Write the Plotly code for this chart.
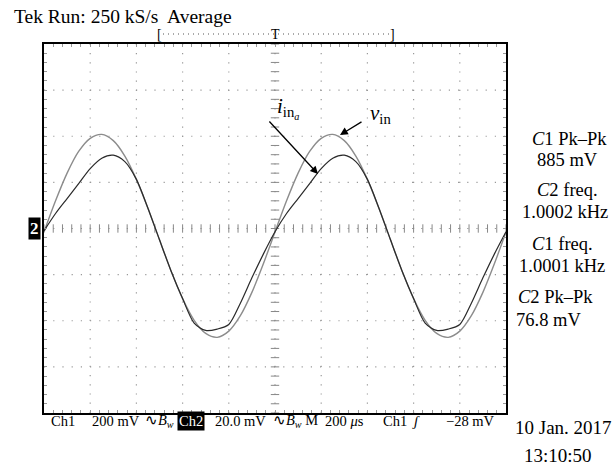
import plotly.graph_objects as go

# ---------------- data (read from the screen) ----------------
# time base 200 us/div, 10 divisions
time_us = [0, 50, 100, 150, 200, 250, 300, 350, 400, 450, 500, 550, 600, 650, 700, 750, 800, 850, 900, 950,
           1000, 1050, 1100, 1150, 1200, 1250, 1300, 1350, 1400, 1450, 1500, 1550, 1600, 1650, 1700, 1750,
           1800, 1850, 1900, 1950, 2000]
# Ch1: v_in, 200 mV/div
vin_mV = [-15, 120, 240, 334, 391, 408, 381, 314, 213, 88, -49, -184, -304, -398, -455, -472, -445, -378, -277, -152,
          -15, 120, 240, 334, 391, 408, 381, 314, 213, 88, -49, -184, -304, -398, -455, -472, -445, -378, -277, -152,
          -15]
# Ch2: i_in_a, 20 mV/div
iina_mV = [-1, 6.5, 13, 19.5, 26, 30.5, 31.8, 29, 21.3, 8.8, -4.9, -18.4, -30.4, -41, -44.2, -43.6, -41.6, -32.4, -21.4, -11,
           -1.4, 6.5, 13, 19.5, 26, 30.5, 31.8, 29, 21.3, 8.8, -4.9, -18.4, -30.4, -41, -44.2, -43.6, -41.6, -32.4, -21.4, -11,
           -1.4]
CH1_SCALE = 200.0   # mV/div
CH2_SCALE = 20.0    # mV/div

header_text = "Tek Run: 250 kS/s  Average"
meas_labels = ["<i>C</i>1 Pk–Pk", "885 mV", "<i>C</i>2 freq.", "1.0002 kHz",
               "<i>C</i>1 freq.", "1.0001 kHz", "<i>C</i>2 Pk–Pk", "76.8 mV"]

# ---------------- layout geometry ----------------
W, H = 615, 466
L, R, T, B = 44, 506, 44, 413
FONT = "Liberation Serif"


def px(x):
    return (x - L) / (R - L)


def py(y):
    return (B - y) / (B - T)


fig = go.Figure()

# centre cross tick marks
cx = [i * 40 for i in range(51)]
fig.add_trace(go.Scatter(x=cx, y=[0] * len(cx), mode="markers", hoverinfo="skip",
                         marker=dict(symbol="line-ns", size=6, line=dict(width=1, color="#888")),
                         showlegend=False))
cy = [-4 + i * 0.2 for i in range(41)]
fig.add_trace(go.Scatter(x=[1000] * len(cy), y=cy, mode="markers", hoverinfo="skip",
                         marker=dict(symbol="line-ew", size=6, line=dict(width=1, color="#888")),
                         showlegend=False))

# waveforms
fig.add_trace(go.Scatter(x=time_us, y=[v / CH1_SCALE for v in vin_mV], mode="lines",
                         line=dict(color="#8c8c8c", width=1.4, shape="spline", smoothing=0.8),
                         showlegend=False))
fig.add_trace(go.Scatter(x=time_us, y=[v / CH2_SCALE for v in iina_mV], mode="lines",
                         line=dict(color="#2a2a2a", width=1.2, shape="spline", smoothing=0.8),
                         showlegend=False))

# dotted graticule
shapes = []
for i in range(1, 10):
    shapes.append(dict(type="line", xref="x", yref="y", x0=i * 200, x1=i * 200, y0=-4, y1=4,
                       line=dict(color="#999", width=1.2, dash="1.2px,8px"), layer="below"))
for j in range(-3, 4):
    shapes.append(dict(type="line", xref="x", yref="y", x0=0, x1=2000, y0=j, y1=j,
                       line=dict(color="#999", width=1.2, dash="1.2px,8px"), layer="below"))
# trigger bracket dotted line at top
shapes.append(dict(type="line", xref="paper", yref="paper", x0=px(163), x1=px(389), y0=py(34), y1=py(34),
                   line=dict(color="#555", width=1, dash="1px,4px")))
fig.update_layout(shapes=shapes)

ann = []


def text(x, y, s, size=17, color="black", xanchor="center", yanchor="middle", **kw):
    ann.append(dict(x=px(x), y=py(y), xref="paper", yref="paper", text=s, showarrow=False,
                    xanchor=xanchor, yanchor=yanchor,
                    font=dict(family=FONT, size=size, color=color), **kw))


text(12, 17, header_text, size=19.5, xanchor="left")
text(159, 34, "[", size=14)
text(392, 34, "]", size=14)
text(275, 34, "T", size=14)

meas_x = [569, 567, 567, 565, 562, 562, 555, 548]
meas_y = [139, 160, 190, 212, 244, 266, 297, 320]
for s, x, y in zip(meas_labels, meas_x, meas_y):
    text(x, y, s, size=18.5)

# channel 2 ground marker
text(34, 229, "<b>2</b>", size=17, color="white", bgcolor="black", borderpad=1)

# bottom status line
text(49, 421, "Ch1", size=14.5, xanchor="left")
text(90, 421, "200 mV", size=14.5, xanchor="left")
text(143, 421, "∿<i>B</i><sub><i>w</i></sub>", size=14.5, xanchor="left")
text(191, 421, "Ch2", size=14.5, color="white", bgcolor="black", borderpad=1)
text(213, 421, "20.0 mV", size=14.5, xanchor="left")
text(271, 421, "∿<i>B</i><sub><i>w</i></sub> M", size=14.5, xanchor="left")
text(323, 421, "200 <i>μ</i>s", size=14.5, xanchor="left")
text(381, 421, "Ch1", size=14.5, xanchor="left")
text(416, 421, "<i>ʃ</i>", size=14.5)
text(497, 421, "−28 mV", size=14.5, xanchor="right")
text(563, 428, "10 Jan. 2017", size=19)
text(558, 455, "13:10:50", size=19)

# signal labels with arrows
ann.append(dict(x=px(318), y=py(174), ax=px(268), ay=py(120), xref="x domain", yref="y domain",
                axref="x domain", ayref="y domain", showarrow=True, arrowhead=2, arrowsize=1.2,
                arrowwidth=1.3, arrowcolor="black", text=""))
ann.append(dict(x=px(340), y=py(135), ax=px(363), ay=py(121), xref="x domain", yref="y domain",
                axref="x domain", ayref="y domain", showarrow=True, arrowhead=2, arrowsize=1.2,
                arrowwidth=1.3, arrowcolor="black", text=""))
text(288, 108, "<i>i</i><sub>in<sub><i>a</i></sub></sub>", size=21)
text(380, 114, "<i>v</i><sub>in</sub>", size=21)

fig.update_layout(annotations=ann)

fig.update_xaxes(range=[0, 2000], showgrid=False, zeroline=False, showticklabels=False,
                 ticks="inside", tick0=0, dtick=40, ticklen=3, tickcolor="#999", tickwidth=1,
                 showline=True, linecolor="black", linewidth=1.5, mirror="ticks")
fig.update_yaxes(range=[-4, 4], showgrid=False, zeroline=False, showticklabels=False,
                 ticks="inside", tick0=0, dtick=0.2, ticklen=3, tickcolor="#999", tickwidth=1,
                 showline=True, linecolor="black", linewidth=1.5, mirror="ticks")

fig.update_layout(width=W, height=H, margin=dict(l=L, r=W - R, t=T, b=H - B),
                  paper_bgcolor="white", plot_bgcolor="white")

fig.write_html("out.html")
